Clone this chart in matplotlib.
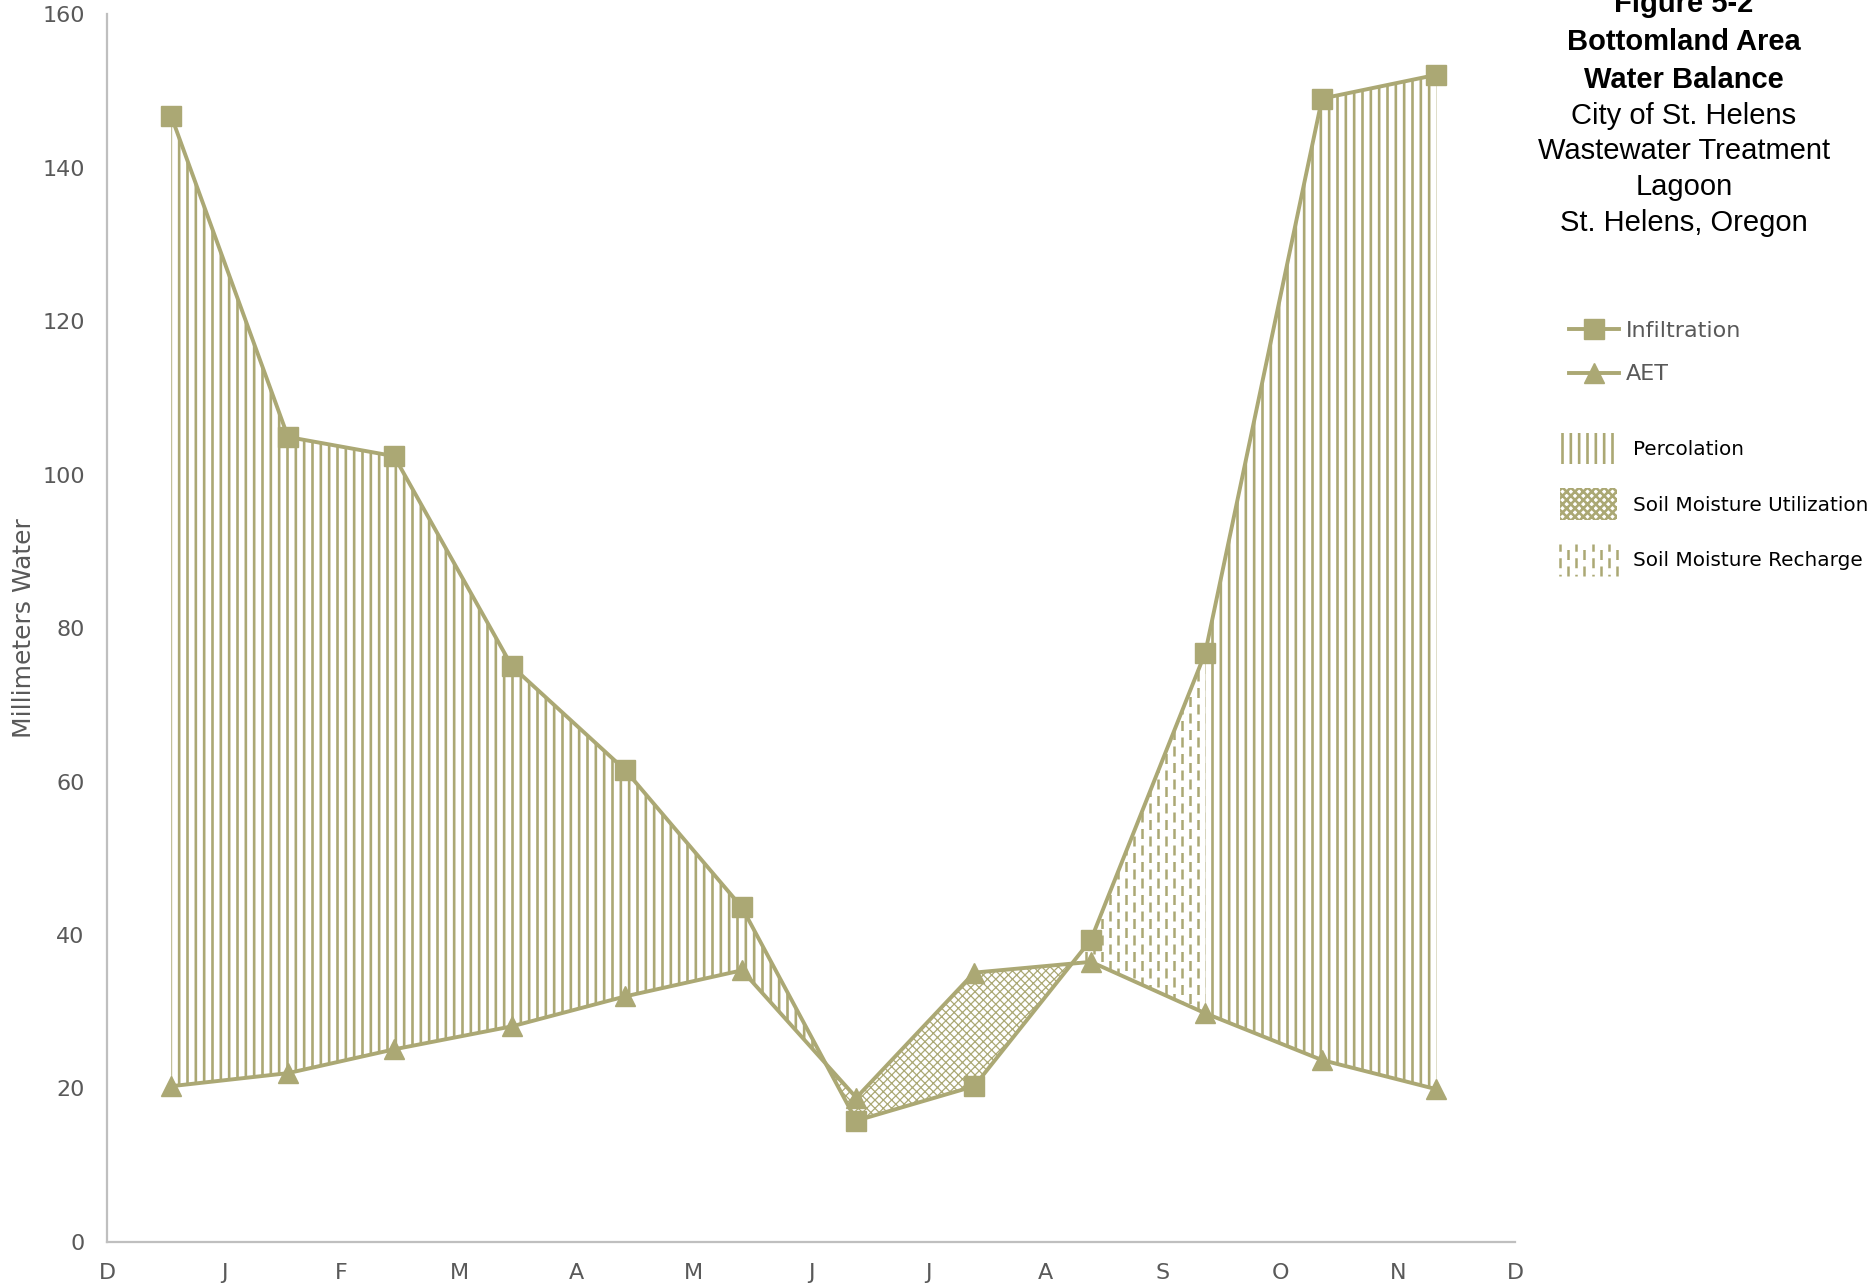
import numpy as np
import matplotlib
matplotlib.use("Agg")
from matplotlib import pyplot as plt
from matplotlib.patches import Patch
from matplotlib.lines import Line2D
from matplotlib.legend_handler import HandlerBase

# month positions of the points (0 = start of Dec on the axis)
month_pos = [0.548, 1.543, 2.447, 3.452, 4.416, 5.411, 6.386, 7.391, 8.386, 9.360, 10.355, 11.330]
infiltration = [146.7, 104.9, 102.4, 75.0, 61.5, 43.6, 15.8, 20.3, 39.4, 76.8, 149.0, 152.1]
aet = [20.3, 22.0, 25.1, 28.1, 32.0, 35.4, 18.8, 35.1, 36.5, 29.8, 23.7, 19.9]
month_labels = ["D", "J", "F", "M", "A", "M", "J", "J", "A", "S", "O", "N", "D"]
y_ticks = [0, 20, 40, 60, 80, 100, 120, 140, 160]

title_bold = ["Figure 5-2", "Bottomland Area", "Water Balance"]
title_plain = ["City of St. Helens", "Wastewater Treatment", "Lagoon", "St. Helens, Oregon"]

olive = "#ABA874"
gray = "#595959"
axis_gray = "#BFBFBF"

plt.rcParams["font.family"] = ["DejaVu Sans"]
plt.rcParams["hatch.linewidth"] = 1.9


def hatch_lw(artist, lw):
    # per-artist hatch width where matplotlib supports it
    if hasattr(artist, "set_hatch_linewidth"):
        artist.set_hatch_linewidth(lw)


x = np.array(month_pos)
inf = np.array(infiltration)
ae = np.array(aet)

fig = plt.figure(figsize=(18.67, 12.87), dpi=100)
ax = fig.add_axes([0.0573, 0.035, 0.7542, 0.954])

# percolation, first part (to where the lines cross in June)
perc1 = ax.fill_between(x[:7], inf[:7], ae[:7], where=inf[:7] >= ae[:7], interpolate=True,
                        facecolor="none", edgecolor=olive, linewidth=0, hatch="||", zorder=1)
# soil moisture utilization (AET above infiltration)
util = ax.fill_between(x[5:9], inf[5:9], ae[5:9], where=ae[5:9] > inf[5:9], interpolate=True,
                       facecolor="none", edgecolor=olive, linewidth=0, hatch="xxxx", zorder=1)
hatch_lw(util, 0.9)
# soil moisture recharge, outline only, dashes drawn below
rech = ax.fill_between(x[7:10], inf[7:10], ae[7:10], where=inf[7:10] >= ae[7:10], interpolate=True,
                       facecolor="none", edgecolor="none", linewidth=0, zorder=1)
# percolation, autumn part
perc2 = ax.fill_between(x[9:], inf[9:], ae[9:], facecolor="none", edgecolor=olive,
                        linewidth=0, hatch="||", zorder=1)

# dashed vertical lines clipped to the recharge area
step = 0.068
xs_a = np.arange(x[7], x[9], 2 * step)
xs_b = xs_a + step
for xs, off in ((xs_a, 0), (xs_b, 3.6)):
    vl = ax.vlines(xs, 0, 160, colors=olive, linewidth=1.8,
                   linestyles=[(off, (4.0, 2.6))], zorder=1)
    vl.set_clip_path(rech.get_paths()[0], ax.transData)

ax.plot(x, inf, color=olive, lw=2.8, marker="s", markersize=14, zorder=3, label="Infiltration")
ax.plot(x, ae, color=olive, lw=2.8, marker="^", markersize=14, zorder=3, label="AET")

ax.set_xlim(0, 12)
ax.set_ylim(0, 160)
ax.set_xticks(range(13))
ax.set_xticklabels(month_labels)
ax.set_yticks(y_ticks)
ax.tick_params(length=0, labelsize=16, colors=gray)
ax.tick_params(axis="x", pad=15)
ax.tick_params(axis="y", pad=16)
for side in ("top", "right"):
    ax.spines[side].set_visible(False)
for side in ("left", "bottom"):
    ax.spines[side].set_color(axis_gray)
    ax.spines[side].set_linewidth(1.6)
ax.set_ylabel("Millimeters Water", fontsize=18, color=gray)
ax.yaxis.set_label_coords(-0.0505, 0.5)

# legends
leg1 = fig.legend(handles=ax.get_lines(), loc="upper left", bbox_to_anchor=(0.8404, 0.7505),
                  frameon=False, fontsize=16, labelcolor=gray, handlelength=2.25,
                  handletextpad=0.3, labelspacing=1.05, borderpad=0, borderaxespad=0)


class DashedHandler(HandlerBase):
    def create_artists(self, legend, orig_handle, xdescent, ydescent, width, height, fontsize, trans):
        arts = []
        cols = np.linspace(0, width, 8)
        for i, cx in enumerate(cols):
            ln = Line2D([cx - xdescent] * 2, [-ydescent, height - ydescent], color=olive, lw=1.8,
                        linestyle=(0 if i % 2 else 3.3, (4.0, 2.6)), transform=trans)
            arts.append(ln)
        return arts


p_perc = Patch(facecolor="none", edgecolor=olive, linewidth=0, hatch="||", label="Percolation")
p_util = Patch(facecolor="none", edgecolor=olive, linewidth=0, hatch="xxxx", label="Soil Moisture Utilization")
hatch_lw(p_util, 0.9)
p_rech = Patch(facecolor="none", edgecolor="none", label="Soil Moisture Recharge")
leg2 = fig.legend(handles=[p_perc, p_util, p_rech], handler_map={p_rech: DashedHandler()},
                  loc="upper left", bbox_to_anchor=(0.8356, 0.6636), frameon=False, fontsize=14.4,
                  labelcolor="black", handlelength=2.85, handleheight=2.05, handletextpad=0.8,
                  labelspacing=1.2, borderpad=0, borderaxespad=0)

# title block
tx = 0.902
bold_y = [4, 42, 80]
plain_y = [115.5, 151.2, 186.9, 222.7]
for txt, yy in zip(title_bold, bold_y):
    fig.text(tx, 1 - yy / 1287, txt, ha="center", va="center", fontsize=21,
             fontweight="bold", family="Liberation Sans")
for txt, yy in zip(title_plain, plain_y):
    fig.text(tx, 1 - yy / 1287, txt, ha="center", va="center", fontsize=21,
             family="Liberation Sans")

fig.savefig("out.png", dpi=100)
